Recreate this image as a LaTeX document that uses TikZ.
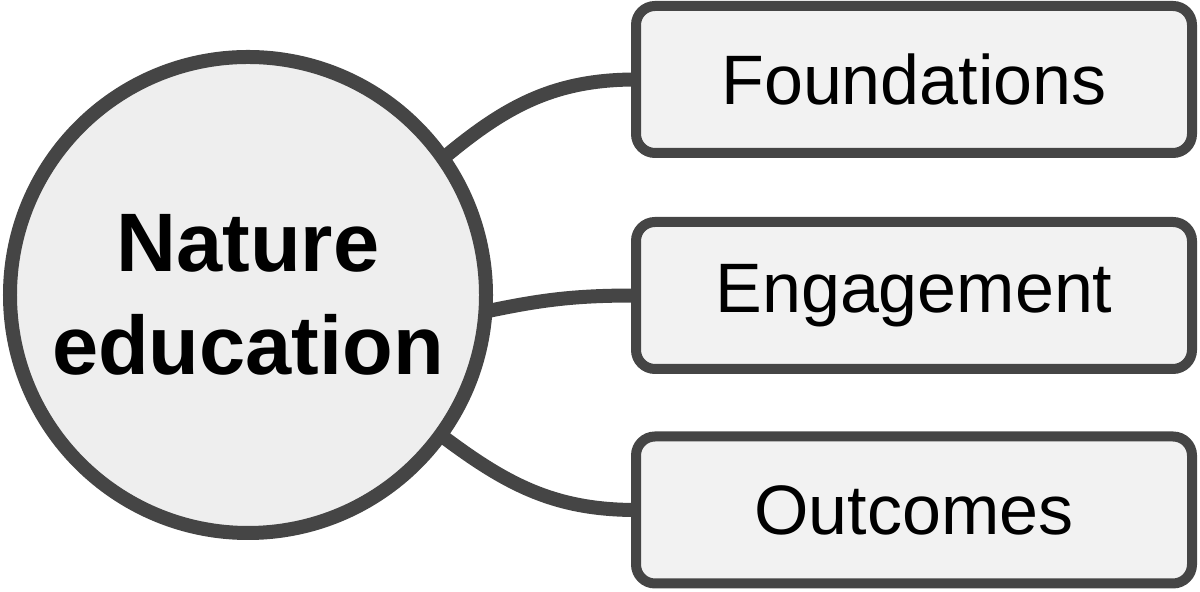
\documentclass[tikz,border=0pt]{standalone}
\usepackage{fontspec}
\setmainfont{Liberation Sans}
\definecolor{edgegray}{HTML}{454545}
\definecolor{circfill}{HTML}{EEEEEE}
\definecolor{boxfill}{HTML}{F2F2F2}
\begin{document}
\begin{tikzpicture}[x=1bp,y=1bp,
  hub/.style={circle, draw=edgegray, line width=14bp, fill=circfill,
    minimum size=476bp, inner sep=0pt, outer sep=0pt, align=center,
    font=\fontsize{83bp}{103bp}\selectfont\bfseries},
  leaf/.style={rectangle, rounded corners=19bp, draw=edgegray, line width=10bp,
    fill=boxfill, minimum width=556bp, minimum height=147bp, inner sep=0pt,
    outer sep=0pt, font=\fontsize{70bp}{84bp}\selectfont},
  link/.style={draw=edgegray, line width=14bp}]
\useasboundingbox (0,0) rectangle (1200,592);
\node[hub] (c) at (248,297) {Nature\\education};
\node[leaf] (b1) at (914,512.5) {Foundations};
\node[leaf] (b2) at (914,296.5) {Engagement};
\node[leaf] (b3) at (914,82) {Outcomes};
\draw[link] (c.35) to[out=40,in=180] (b1.west);
\draw[link] (c.-4) to[out=12,in=180] (b2.west);
\draw[link] (c.-36) to[out=-37,in=180] (b3.west);
\end{tikzpicture}
\end{document}
